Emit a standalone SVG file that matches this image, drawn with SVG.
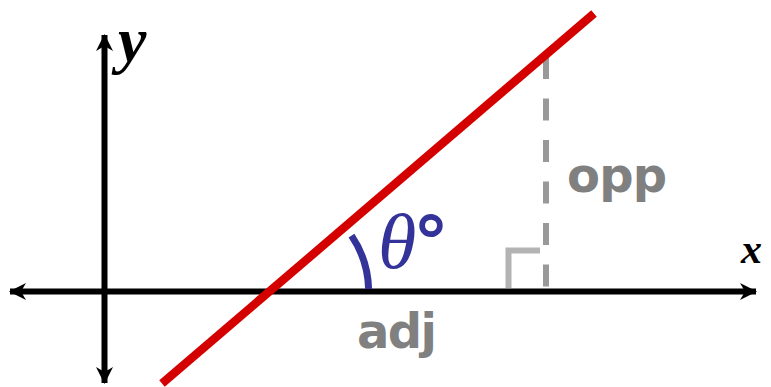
<svg xmlns="http://www.w3.org/2000/svg" width="771" height="387" viewBox="0 0 771 387">
<style>
.axis{stroke:#000;stroke-width:6;fill:none}
.lbl{font-family:"Liberation Serif",serif;font-style:italic;font-weight:bold;fill:#000}
.gray{font-family:"DejaVu Sans",sans-serif;font-weight:bold;fill:#808080}
</style>
<defs>
<marker id="ah" viewBox="0 0 18 18" refX="16" refY="9" markerWidth="18" markerHeight="18" markerUnits="userSpaceOnUse" orient="auto-start-reverse">
<path d="M0,0.5 L17,9 L0,17.5 L5,9 Z" fill="#000"/>
</marker>
</defs>
<rect width="771" height="387" fill="#fff"/>
<g id="connectors">
<line class="axis" x1="10" y1="291.5" x2="756" y2="291.5" marker-start="url(#ah)" marker-end="url(#ah)"/>
<line class="axis" x1="104.5" y1="35" x2="104.5" y2="383" marker-start="url(#ah)" marker-end="url(#ah)"/>
</g>
<g id="opp-line">
<line x1="546" y1="57" x2="546" y2="288" stroke="#999" stroke-width="6" stroke-dasharray="22 19.5"/>
</g>
<g id="right-angle">
<polyline points="508.5,288 508.5,250.5 540,250.5" fill="none" stroke="#b3b3b3" stroke-width="6"/>
</g>
<g id="red-line">
<line x1="162" y1="383.5" x2="594" y2="13.5" stroke="#d40000" stroke-width="8.5"/>
</g>
<g id="angle-arc">
<path d="M368.6,289 A100,100 0 0 0 351.5,235.6" fill="none" stroke="#333399" stroke-width="7"/>
</g>
<g id="labels">
<text class="lbl" x="118" y="61" font-size="64">y</text>
<text class="lbl" x="741" y="263" font-size="42">x</text>
<text x="378" y="268" font-family="'Liberation Serif',serif" font-style="italic" font-size="78" fill="#333399">θ</text>
<text x="413" y="267" font-family="'DejaVu Sans',sans-serif" font-weight="bold" font-size="72" fill="#333399">°</text>
<text class="gray" x="567" y="192" font-size="48" textLength="100" lengthAdjust="spacing">opp</text>
<text class="gray" x="357" y="348" font-size="48" textLength="80" lengthAdjust="spacing">adj</text>
</g>
</svg>
